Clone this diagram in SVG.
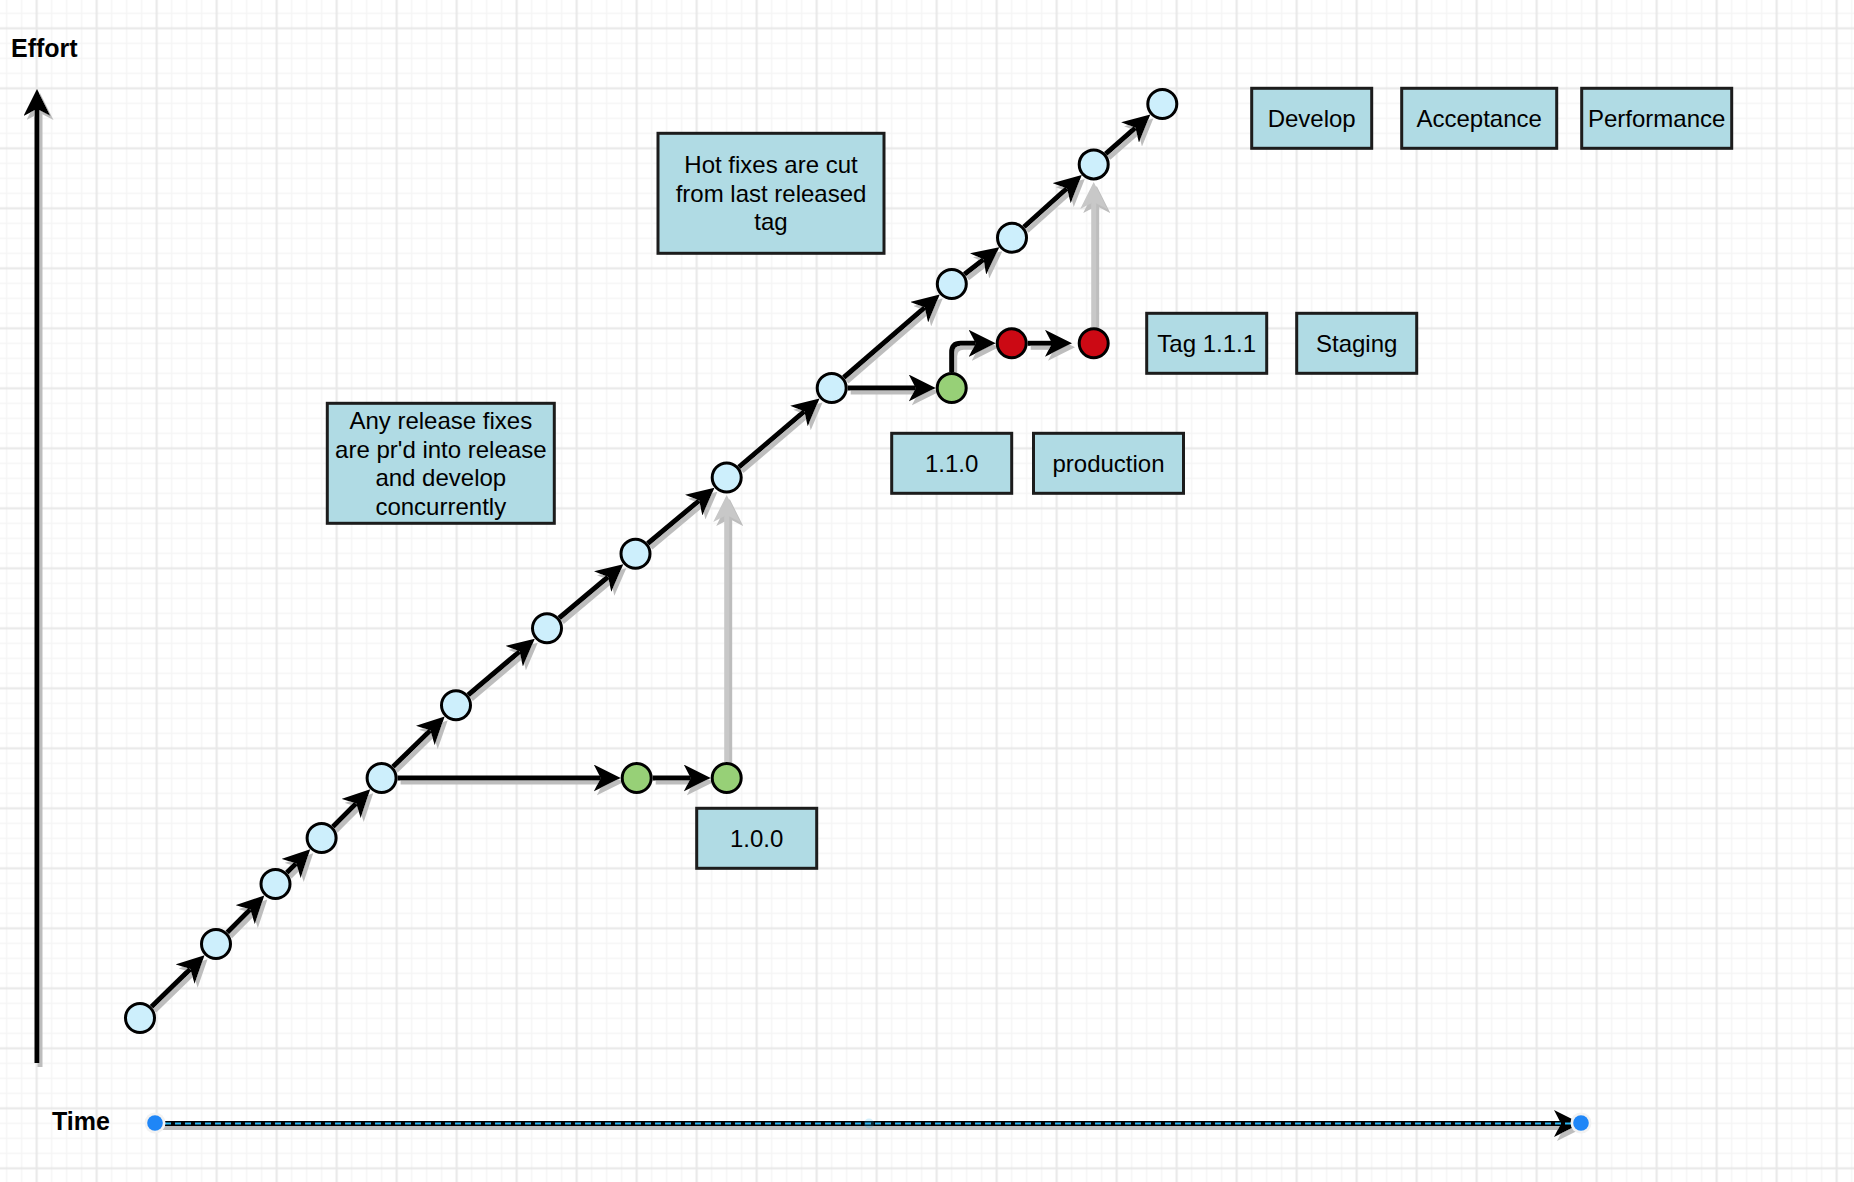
<svg xmlns="http://www.w3.org/2000/svg" width="1854" height="1182" viewBox="0 0 1854 1182">
<style>
.lbl{font-family:"Liberation Sans",Arial,Helvetica,sans-serif;font-size:24px;fill:#000;text-anchor:middle}
.ax{font-family:"Liberation Sans",Arial,Helvetica,sans-serif;font-size:25px;font-weight:bold;fill:#000}
.box{fill:#b0dbe4;stroke:#1c1c1c;stroke-width:3}
.dev{fill:#cdeffc;stroke:#000;stroke-width:3}
.rel{fill:#97d077;stroke:#000;stroke-width:3}
.hot{fill:#cc0914;stroke:#000;stroke-width:3}
.c{fill:none;stroke:#000;stroke-width:5;marker-end:url(#arr)}
.cg{fill:none;stroke:#c8c8c8;stroke-width:5;marker-end:url(#arrg)}
</style>
<defs>
<pattern id="grid" x="29.2" y="20.8" width="60" height="60" patternUnits="userSpaceOnUse">
<path d="M22.5 0V60M37.5 0V60M52.5 0V60M0 22.5H60M0 37.5H60M0 52.5H60" stroke="#f5f5f5" stroke-width="1.5" fill="none"/>
<path d="M7.5 0V60M0 7.5H60" stroke="#e8e8e8" stroke-width="2" fill="none"/>
</pattern>
<marker id="arr" markerUnits="userSpaceOnUse" markerWidth="27" markerHeight="27" viewBox="0 0 27 27" refX="7" refY="13.5" orient="auto">
<path d="M0,0 L27,13.5 L0,27 L7,13.5 Z" fill="#000"/>
</marker>
<marker id="arrg" markerUnits="userSpaceOnUse" markerWidth="27" markerHeight="27" viewBox="0 0 27 27" refX="7" refY="13.5" orient="auto">
<path d="M0,0 L27,13.5 L0,27 L7,13.5 Z" fill="#c8c8c8"/>
</marker>
<filter id="sh" filterUnits="userSpaceOnUse" x="0" y="0" width="1854" height="1182">
<feOffset in="SourceAlpha" dx="3" dy="4" result="o"/>
<feFlood flood-color="#bdbdbd"/>
<feComposite in2="o" operator="in" result="s"/>
<feMerge><feMergeNode in="s"/><feMergeNode in="SourceGraphic"/></feMerge>
</filter>
</defs>
<rect width="1854" height="1182" fill="#fff"/>
<rect width="1854" height="1182" fill="url(#grid)"/>

<g id="axes-labels">
<text class="ax" x="11" y="57">Effort</text>
<text class="ax" x="52" y="1130">Time</text>
</g>

<g id="connectors" filter="url(#sh)">
<path id="effort-axis" class="c" d="M37,1063 V109"/>
<path id="time-axis" class="c" d="M155,1123.5 H1561"/>
<path class="c" d="M151.5,1006.8 L190.2,969.1"/>
<path class="c" d="M227.3,932.6 L250.2,909.6"/>
<path class="c" d="M286.8,872.7 L296.1,863.4"/>
<path class="c" d="M332.9,826.7 L356.1,803.5"/>
<path class="c" d="M393,766.8 L430.3,730.5"/>
<path class="c" d="M468.2,695 L519.5,651.6"/>
<path class="c" d="M559.2,618 L608,577"/>
<path class="c" d="M647.8,543.5 L699.1,500.6"/>
<path class="c" d="M738.9,467.1 L804.3,411.4"/>
<path class="c" d="M843.8,377.5 L924.6,307.6"/>
<path class="c" d="M964.5,274.3 L983.5,259.6"/>
<path class="c" d="M1023.9,227 L1066.9,188.4"/>
<path class="c" d="M1105.7,153.8 L1135.3,127.8"/>
<path class="c" d="M397.6,778 H600.7"/>
<path class="c" d="M652.7,778 H690.7"/>
<path class="cg" d="M726.7,762 V515"/>
<path class="c" d="M847.7,388 H915.7"/>
<path class="c" d="M951.7,372 V352.3 Q951.7,343.3 960.7,343.3 H975.7"/>
<path class="c" d="M1027.7,343.3 H1052"/>
<path class="cg" d="M1093.7,327.3 V202"/>
</g>

<g id="time-selection">
<path d="M155,1123.5 H1581" stroke="#29b6f2" stroke-width="2" stroke-dasharray="6 4" fill="none"/>
<circle cx="869" cy="1123.5" r="5" fill="#29b6f2" opacity="0.2"/>
<circle cx="155" cy="1123" r="10.5" fill="#f2f2f2"/>
<circle cx="155" cy="1123" r="7.8" fill="#1f86f7"/>
<circle cx="1581" cy="1123" r="10.5" fill="#f2f2f2"/>
<circle cx="1581" cy="1123" r="7.8" fill="#1f86f7"/>
</g>

<g id="n1"><circle class="dev" cx="140" cy="1018" r="14.5"/></g>
<g id="n2"><circle class="dev" cx="216" cy="944" r="14.5"/></g>
<g id="n3"><circle class="dev" cx="275.5" cy="884" r="14.5"/></g>
<g id="n4"><circle class="dev" cx="321.6" cy="838" r="14.5"/></g>
<g id="n5"><circle class="dev" cx="381.6" cy="778" r="14.5"/></g>
<g id="n6"><circle class="dev" cx="456" cy="705.3" r="14.5"/></g>
<g id="n7"><circle class="dev" cx="547" cy="628.3" r="14.5"/></g>
<g id="n8"><circle class="dev" cx="635.5" cy="553.8" r="14.5"/></g>
<g id="n9"><circle class="dev" cx="726.7" cy="477.5" r="14.5"/></g>
<g id="n10"><circle class="dev" cx="831.7" cy="388" r="14.5"/></g>
<g id="n11"><circle class="dev" cx="951.8" cy="284" r="14.5"/></g>
<g id="n12"><circle class="dev" cx="1012" cy="237.7" r="14.5"/></g>
<g id="n13"><circle class="dev" cx="1093.7" cy="164.4" r="14.5"/></g>
<g id="n14"><circle class="dev" cx="1162.3" cy="104" r="14.5"/></g>
<g id="g1"><circle class="rel" cx="636.7" cy="778" r="14.5"/></g>
<g id="g2"><circle class="rel" cx="726.7" cy="778" r="14.5"/></g>
<g id="g3"><circle class="rel" cx="951.7" cy="388" r="14.5"/></g>
<g id="r1"><circle class="hot" cx="1011.7" cy="343.3" r="14.5"/></g>
<g id="r2"><circle class="hot" cx="1093.7" cy="343.3" r="14.5"/></g>

<g id="note-hotfix"><rect class="box" x="658" y="133.3" width="226" height="120"/>
<text class="lbl" x="771" y="173.3">Hot fixes are cut</text>
<text class="lbl" x="771" y="201.8">from last released</text>
<text class="lbl" x="771" y="230.3">tag</text></g>
<g id="note-release"><rect class="box" x="327.3" y="403.3" width="227" height="120"/>
<text class="lbl" x="440.8" y="429">Any release fixes</text>
<text class="lbl" x="440.8" y="457.5">are pr'd into release</text>
<text class="lbl" x="440.8" y="486">and develop</text>
<text class="lbl" x="440.8" y="514.5">concurrently</text></g>
<g id="b100"><rect class="box" x="696.7" y="808.3" width="120" height="60"/><text class="lbl" x="756.7" y="846.8">1.0.0</text></g>
<g id="b110"><rect class="box" x="891.7" y="433.3" width="120" height="60"/><text class="lbl" x="951.7" y="471.8">1.1.0</text></g>
<g id="bprod"><rect class="box" x="1033.5" y="433.3" width="150" height="60"/><text class="lbl" x="1108.5" y="471.8">production</text></g>
<g id="btag"><rect class="box" x="1146.7" y="313.3" width="120" height="60"/><text class="lbl" x="1206.7" y="351.8">Tag 1.1.1</text></g>
<g id="bstaging"><rect class="box" x="1296.7" y="313.3" width="120" height="60"/><text class="lbl" x="1356.7" y="351.8">Staging</text></g>
<g id="bdevelop"><rect class="box" x="1251.7" y="88.3" width="120" height="60"/><text class="lbl" x="1311.7" y="126.8">Develop</text></g>
<g id="bacceptance"><rect class="box" x="1401.7" y="88.3" width="155" height="60"/><text class="lbl" x="1479.2" y="126.8">Acceptance</text></g>
<g id="bperformance"><rect class="box" x="1581.7" y="88.3" width="150" height="60"/><text class="lbl" x="1656.7" y="126.8">Performance</text></g>
</svg>
